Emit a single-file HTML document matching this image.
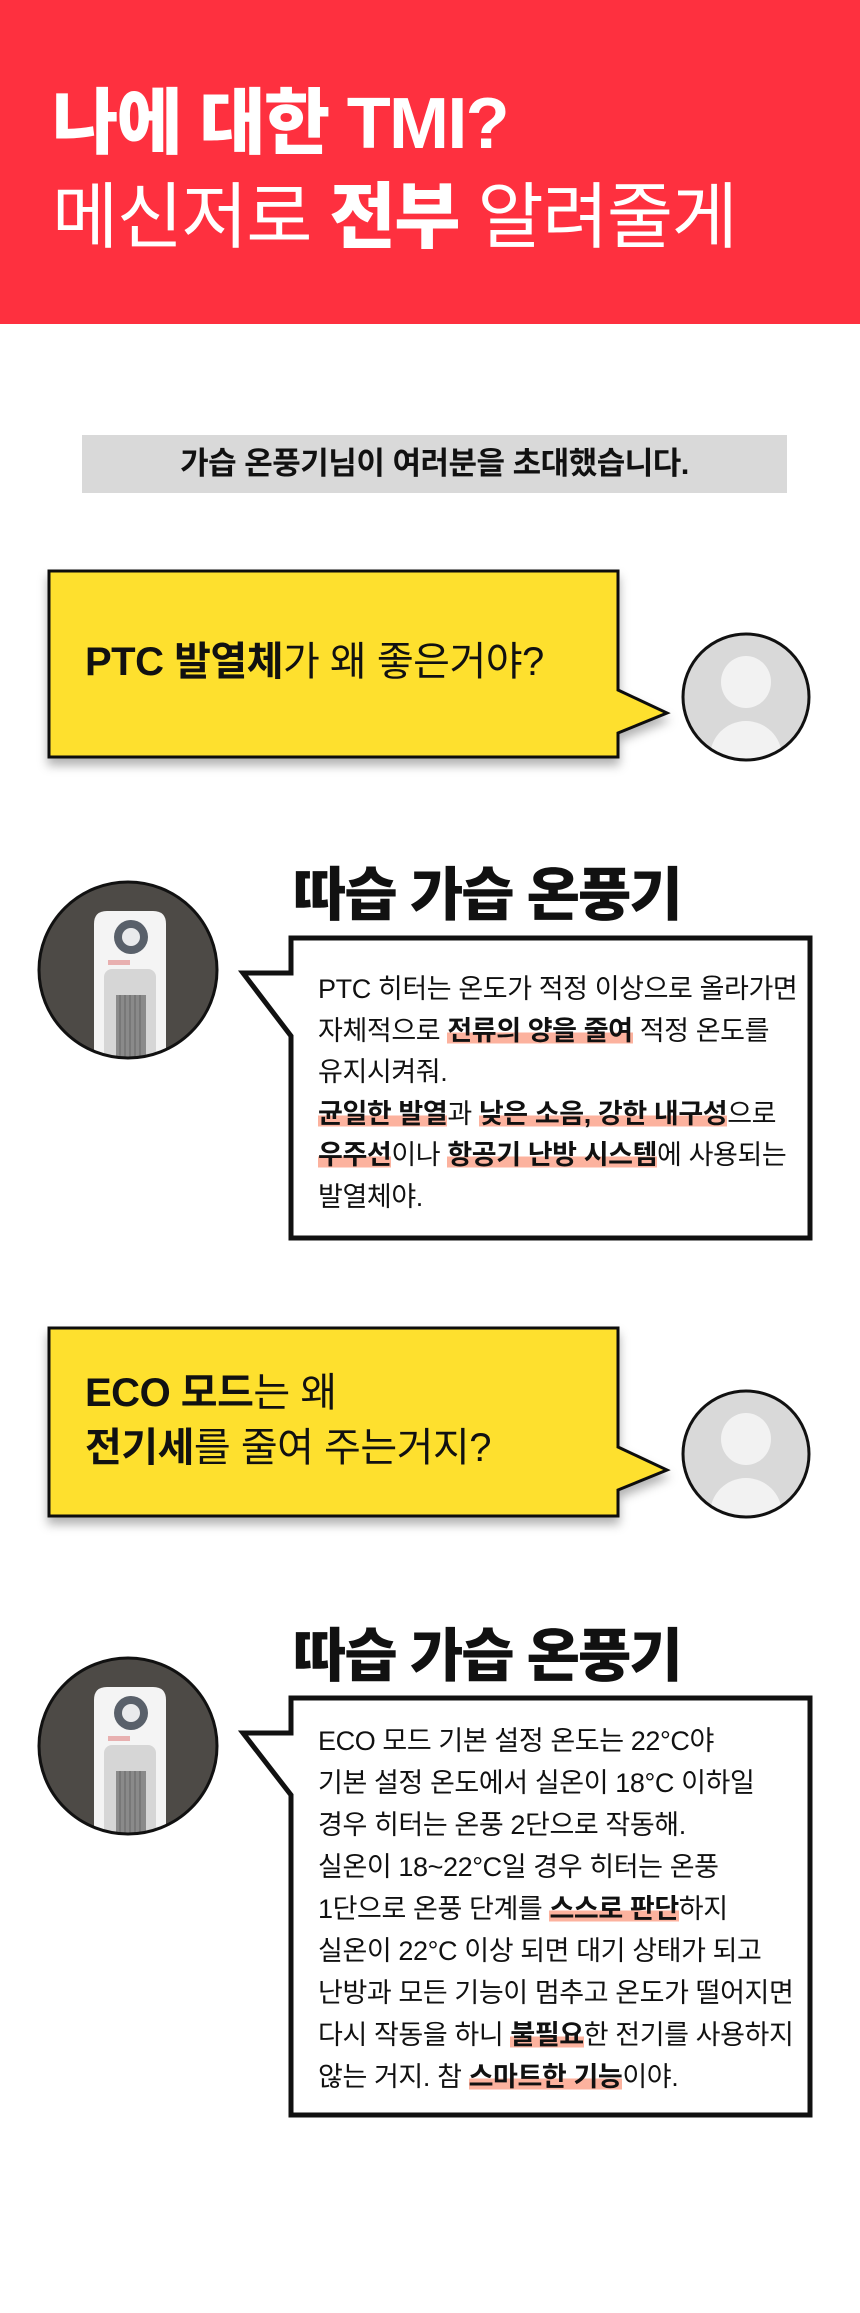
<!DOCTYPE html>
<html><head><meta charset="utf-8">
<style>
*{margin:0;padding:0;box-sizing:border-box}
body{width:860px;height:2313px;background:#fff;position:relative;overflow:hidden;font-family:"Liberation Sans","Noto Sans CJK KR",sans-serif;color:#111}
.abs{position:absolute;white-space:nowrap}
.h1{left:52px;top:77px;font-size:72px;line-height:94px;color:#fff}
.h1 b{font-weight:800}
.h1 .l1{font-weight:800;letter-spacing:-1.7px}
.h1 .l2{font-weight:400;letter-spacing:-1.5px}
.gray{left:82px;top:435px;width:705px;height:58px;background:#d9d9d9;text-align:center;font-weight:700;font-size:31px;line-height:58px;letter-spacing:-0.5px}
.q{left:85px;font-size:40px;letter-spacing:-0.5px;color:#111}
.q b{font-weight:700}
.t{left:293px;font-size:58px;font-weight:800;letter-spacing:-2px;line-height:60px}
.txt{left:318px;font-size:27px;color:#111;letter-spacing:-0.4px}
.txt b{font-weight:700}
.hl{background:linear-gradient(transparent 55%,#fcb29e 55%,#fcb29e 92%,transparent 92%)}
</style></head><body>
<svg class="abs" style="left:0;top:0" width="860" height="2313" viewBox="0 0 860 2313">
<defs>
<filter id="sh" x="-10%" y="-10%" width="130%" height="140%"><feDropShadow dx="0" dy="7" stdDeviation="5" flood-color="#000" flood-opacity="0.3"/></filter>
<clipPath id="c1"><ellipse cx="128" cy="970" rx="89" ry="88"/></clipPath>
<clipPath id="c2"><ellipse cx="128" cy="1746" rx="89" ry="88"/></clipPath>
<clipPath id="a1"><circle cx="746" cy="697" r="63"/></clipPath>
<clipPath id="a2"><circle cx="746" cy="1454" r="63"/></clipPath>
</defs>
<rect x="0" y="0" width="860" height="324" fill="#fe303f"/>
<path d="M49,571 H618 V690 L667,713 L618,733 V757 H49 Z" fill="#fee02f" stroke="#111" stroke-width="3" filter="url(#sh)"/>
<g clip-path="url(#a1)"><rect x="680" y="630" width="140" height="140" fill="#d9d9d9"/><ellipse cx="746" cy="682" rx="25" ry="26" fill="#f2f2f2"/><circle cx="746" cy="757" r="36" fill="#f2f2f2"/></g>
<circle cx="746" cy="697" r="63" fill="none" stroke="#111" stroke-width="3"/>
<g clip-path="url(#c1)">
<rect x="30" y="870" width="200" height="200" fill="#4d4a46"/>
<path d="M94,924 Q94,911 107,911 H153 Q166,911 166,924 V1070 H94 Z" fill="#f4f4f4"/>
<circle cx="131" cy="937" r="17" fill="#59606a"/><circle cx="131" cy="937" r="9" fill="#e9eaec"/>
<rect x="108" y="960" width="22" height="5" fill="#e8b0b0"/>
<rect x="104" y="969" width="52" height="110" rx="8" fill="#d6d6d6"/>
<rect x="116" y="995" width="30" height="80" fill="#8a8a8a"/>
<g stroke="#666" stroke-width="1"><line x1="120" y1="995" x2="120" y2="1070"/><line x1="125" y1="995" x2="125" y2="1070"/><line x1="130" y1="995" x2="130" y2="1070"/><line x1="135" y1="995" x2="135" y2="1070"/><line x1="140" y1="995" x2="140" y2="1070"/></g>
</g>
<ellipse cx="128" cy="970" rx="89" ry="88" fill="none" stroke="#111" stroke-width="3"/>
<path d="M291,938 H810 V1238 H291 V1036 L243,973 H291 Z" fill="#fff" stroke="#111" stroke-width="5"/>
<path d="M49,1328 H618 V1447 L667,1470 L618,1490 V1516 H49 Z" fill="#fee02f" stroke="#111" stroke-width="3" filter="url(#sh)"/>
<g clip-path="url(#a2)"><rect x="680" y="1387" width="140" height="140" fill="#d9d9d9"/><ellipse cx="746" cy="1439" rx="25" ry="26" fill="#f2f2f2"/><circle cx="746" cy="1514" r="36" fill="#f2f2f2"/></g>
<circle cx="746" cy="1454" r="63" fill="none" stroke="#111" stroke-width="3"/>
<g clip-path="url(#c2)">
<rect x="30" y="1646" width="200" height="200" fill="#4d4a46"/>
<path d="M94,1700 Q94,1687 107,1687 H153 Q166,1687 166,1700 V1846 H94 Z" fill="#f4f4f4"/>
<circle cx="131" cy="1713" r="17" fill="#59606a"/><circle cx="131" cy="1713" r="9" fill="#e9eaec"/>
<rect x="108" y="1736" width="22" height="5" fill="#e8b0b0"/>
<rect x="104" y="1745" width="52" height="110" rx="8" fill="#d6d6d6"/>
<rect x="116" y="1771" width="30" height="80" fill="#8a8a8a"/>
<g stroke="#666" stroke-width="1"><line x1="120" y1="1771" x2="120" y2="1846"/><line x1="125" y1="1771" x2="125" y2="1846"/><line x1="130" y1="1771" x2="130" y2="1846"/><line x1="135" y1="1771" x2="135" y2="1846"/><line x1="140" y1="1771" x2="140" y2="1846"/></g>
</g>
<ellipse cx="128" cy="1746" rx="89" ry="88" fill="none" stroke="#111" stroke-width="3"/>
<path d="M291,1698 H810 V2115 H291 V1795 L243,1733 H291 Z" fill="#fff" stroke="#111" stroke-width="5"/>
</svg>

<div class="abs h1"><div class="l1">나에 대한 TMI?</div><div class="l2">메신저로 <b>전부</b> 알려줄게</div></div>
<div class="abs gray">가습 온풍기님이 여러분을 초대했습니다.</div>

<div class="abs q" style="top:636px;line-height:52px"><b>PTC 발열체</b>가 왜 좋은거야?</div>

<div class="abs t" style="top:866px">따습 가습 온풍기</div>
<div class="abs txt" style="top:969px;line-height:41.6px">PTC 히터는 온도가 적정 이상으로 올라가면<br>자체적으로 <b class="hl">전류의 양을 줄여</b> 적정 온도를<br>유지시켜줘.<br><b class="hl">균일한 발열</b>과 <b class="hl">낮은 소음, 강한 내구성</b>으로<br><b class="hl">우주선</b>이나 <b class="hl">항공기 난방 시스템</b>에 사용되는<br>발열체야.</div>

<div class="abs q" style="top:1366px;line-height:55px"><b>ECO 모드</b>는 왜<br><b>전기세</b>를 줄여 주는거지?</div>

<div class="abs t" style="top:1627px">따습 가습 온풍기</div>
<div class="abs txt" style="top:1720px;line-height:42px">ECO 모드 기본 설정 온도는 22°C야<br>기본 설정 온도에서 실온이 18°C 이하일<br>경우 히터는 온풍 2단으로 작동해.<br>실온이 18~22°C일 경우 히터는 온풍<br>1단으로 온풍 단계를 <b class="hl">스스로 판단</b>하지<br>실온이 22°C 이상 되면 대기 상태가 되고<br>난방과 모든 기능이 멈추고 온도가 떨어지면<br>다시 작동을 하니 <b class="hl">불필요</b>한 전기를 사용하지<br>않는 거지. 참 <b class="hl">스마트한 기능</b>이야.</div>
</body></html>
